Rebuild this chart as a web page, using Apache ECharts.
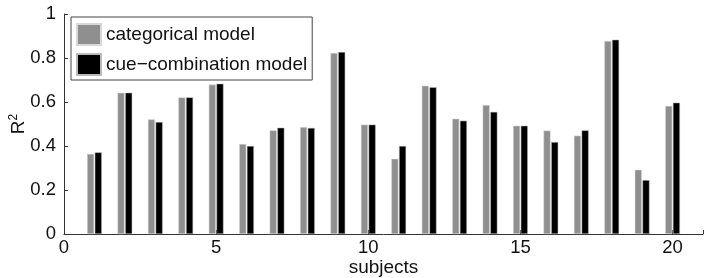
<!DOCTYPE html>
<html>
<head>
<meta charset="utf-8">
<script src="https://cdn.jsdelivr.net/npm/echarts@6/dist/echarts.min.js"></script>
<style>
  html, body { margin: 0; padding: 0; background: #fff; }
  #main { width: 709px; height: 278px; }
</style>
</head>
<body>
<div id="main"></div>
<script>
// subject numbers and R^2 per model
var subjects = [1, 2, 3, 4, 5, 6, 7, 8, 9, 10, 11, 12, 13, 14, 15, 16, 17, 18, 19, 20];
var categorical = [0.364, 0.642, 0.521, 0.621, 0.679, 0.409, 0.471, 0.486, 0.823, 0.497,
                   0.342, 0.674, 0.524, 0.586, 0.492, 0.470, 0.447, 0.877, 0.292, 0.582];
var cueCombination = [0.371, 0.642, 0.509, 0.621, 0.683, 0.400, 0.483, 0.482, 0.827, 0.497,
                      0.400, 0.667, 0.515, 0.555, 0.492, 0.418, 0.471, 0.883, 0.245, 0.597];
var seriesNames = ['categorical model', 'cue\u2212combination model'];

function pairs(vals) {
  return subjects.map(function (s, i) { return [s, vals[i]]; });
}

var font = 'Liberation Sans, Arial, sans-serif';
var chart = echarts.init(document.getElementById('main'));

chart.setOption({
  animation: false,
  backgroundColor: '#fff',
  grid: { left: 64, right: 6, top: 14, bottom: 44, outerBoundsMode: 'none', containLabel: false },
  legend: {
    orient: 'vertical',
    left: 71,
    top: 17,
    padding: [6, 5, 4, 5],
    itemGap: 7,
    itemWidth: 24,
    itemHeight: 21,
    icon: 'rect',
    borderColor: '#444',
    borderWidth: 1,
    backgroundColor: '#fff',
    textStyle: { fontFamily: font, fontSize: 19, color: '#111' },
    data: seriesNames
  },
  xAxis: {
    type: 'value',
    min: 0,
    max: 21,
    interval: 5,
    name: 'subjects',
    nameLocation: 'middle',
    nameGap: 24,
    nameMoveOverlap: false,
    nameTextStyle: { fontFamily: font, fontSize: 19, color: '#111' },
    axisLine: { lineStyle: { color: '#333', width: 1 } },
    axisTick: { inside: true, length: 4, lineStyle: { color: '#333' } },
    axisLabel: {
      fontFamily: font, fontSize: 18.5, color: '#111', margin: 4,
      formatter: function (v) { return v === 21 ? '' : String(v); }
    },
    splitLine: { show: false }
  },
  yAxis: {
    type: 'value',
    min: 0,
    max: 1,
    interval: 0.2,
    name: '{r|R}{s|2}',
    nameLocation: 'middle',
    nameRotate: 90,
    nameGap: 36,
    nameMoveOverlap: false,
    nameTextStyle: {
      fontFamily: font, color: '#111',
      rich: {
        r: { fontFamily: font, fontSize: 19, color: '#111', verticalAlign: 'bottom', lineHeight: 20 },
        s: { fontFamily: font, fontSize: 12, color: '#111', verticalAlign: 'top', lineHeight: 20 }
      }
    },
    axisLine: { show: true, lineStyle: { color: '#333', width: 1 } },
    axisTick: { show: true, inside: true, length: 4, lineStyle: { color: '#333' } },
    axisLabel: {
      fontFamily: font, fontSize: 18.5, color: '#111', margin: 8,
      formatter: function (v) { return String(Math.round(v * 10) / 10); }
    },
    splitLine: { show: false }
  },
  series: [
    {
      name: seriesNames[0],
      type: 'bar',
      data: pairs(categorical),
      barWidth: 7,
      barGap: '10%',
      itemStyle: { color: '#8f8f8f', borderColor: '#d8d8d8', borderWidth: 0.5 }
    },
    {
      name: seriesNames[1],
      type: 'bar',
      data: pairs(cueCombination),
      barWidth: 7,
      barGap: '10%',
      itemStyle: { color: '#000', borderColor: '#bbb', borderWidth: 0.5 }
    }
  ]
});
</script>
</body>
</html>
